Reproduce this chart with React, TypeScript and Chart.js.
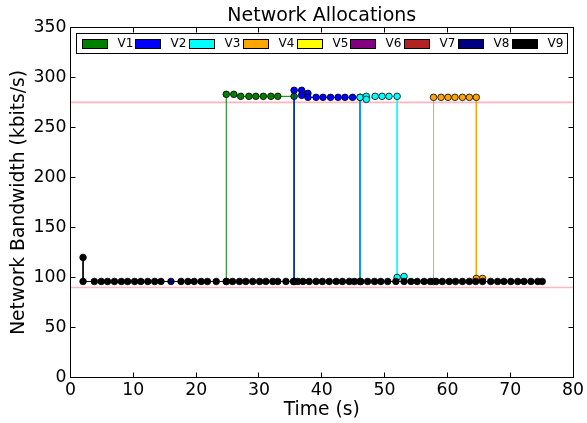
import React, { useEffect, useRef } from "react";
import { Chart, registerables } from "chart.js";

Chart.register(...registerables);

const FONT = "'DejaVu Sans', 'Liberation Sans', sans-serif";

const chartTitle = "Network Allocations";
const xAxisTitle = "Time (s)";
const yAxisTitle = "Network Bandwidth (kbits/s)";

const xMin = 0;
const xMax = 80;
const xStep = 10;
const yMin = 0;
const yMax = 350;
const yStep = 50;

const seriesLabels = ["V1", "V2", "V3", "V4", "V5", "V6", "V7", "V8", "V9"];
const seriesColors = [
  "#008000",
  "#0000ff",
  "#00ffff",
  "#ffa500",
  "#ffff00",
  "#800080",
  "#b22222",
  "#000080",
  "#000000",
];

// reference levels (kbits/s)
const limitLevels = [275, 90];

const v1Time = [24.8, 24.8, 26.0, 27.1, 28.4, 29.5, 30.7, 31.9, 33.0, 35.6, 35.6];
const v1Kbps = [96, 283, 283, 281, 281, 281, 281, 281, 281, 281, 96];

const v2Time = [35.6, 35.6, 36.8, 36.8, 37.8, 37.8, 39.1, 40.2, 41.4, 42.6, 43.7, 44.9, 46.1, 46.1];
const v2Kbps = [96, 287, 287, 282, 284, 280, 280, 280, 280, 280, 280, 280, 280, 96];

const v3Time = [46.1, 46.1, 47.1, 47.1, 48.5, 49.6, 50.7, 52.0, 52.0, 53.1];
const v3Kbps = [96, 280, 281, 278, 281, 281, 281, 281, 100, 101];

const v4Time = [57.8, 57.8, 59.0, 60.1, 61.2, 62.4, 63.5, 64.6, 64.6, 65.6];
const v4Kbps = [96, 280, 280, 280, 280, 280, 280, 280, 99, 99];

const v5Time: number[] = [];
const v5Kbps: number[] = [];

const v6Time: number[] = [];
const v6Kbps: number[] = [];

const v7Time: number[] = [];
const v7Kbps: number[] = [];

const v8Time = [16.0];
const v8Kbps = [96];

const v9Time = [
  2, 2, 3.8, 4.9, 5.9, 7.0, 8.1, 9.1, 10.2, 11.2, 12.3, 13.4, 14.4, 17.6, 18.7, 19.7, 20.8,
  21.8, 23.2, 24.8, 25.8, 26.9, 27.9, 29.0, 30.1, 31.1, 32.2, 33.0, 34.3, 35.5, 36.2, 37.0,
  38.0, 39.1, 40.1, 41.2, 42.3, 43.3, 44.4, 45.2, 46.2, 47.3, 48.4, 49.4, 50.5, 51.8, 53.1,
  54.2, 55.2, 56.3, 57.3, 58.2, 59.2, 60.3, 61.3, 62.4, 63.5, 64.5, 65.6, 66.9, 68.0, 69.0,
  70.1, 71.2, 72.2, 73.3, 74.4, 75.1,
];
const v9Kbps = [
  120, 96, 96, 96, 96, 96, 96, 96, 96, 96, 96, 96, 96, 96, 96, 96, 96,
  96, 96, 96, 96, 96, 96, 96, 96, 96, 96, 96, 96, 96, 96, 96,
  96, 96, 96, 96, 96, 96, 96, 96, 96, 96, 96, 96, 96, 96, 96,
  96, 96, 96, 96, 96, 96, 96, 96, 96, 96, 96, 96, 96, 96, 96,
  96, 96, 96, 96, 96, 96,
];

const seriesTimes = [v1Time, v2Time, v3Time, v4Time, v5Time, v6Time, v7Time, v8Time, v9Time];
const seriesValues = [v1Kbps, v2Kbps, v3Kbps, v4Kbps, v5Kbps, v6Kbps, v7Kbps, v8Kbps, v9Kbps];

const framePlugin = {
  id: "frameTicks",
  afterDatasetsDraw(chart: any) {
    const { ctx, chartArea: ca, scales } = chart;
    const L = Math.floor(ca.left) + 0.5;
    const R = Math.floor(ca.right) + 0.5;
    const T = Math.floor(ca.top) + 0.5;
    const B = Math.floor(ca.bottom) + 0.5;
    ctx.save();
    ctx.strokeStyle = "#000";
    ctx.lineWidth = 1;
    ctx.beginPath();
    const len = 5;
    scales.x.ticks.forEach((t: any) => {
      const px = Math.floor(scales.x.getPixelForValue(t.value)) + 0.5;
      ctx.moveTo(px, B);
      ctx.lineTo(px, B - len);
      ctx.moveTo(px, T);
      ctx.lineTo(px, T + len);
    });
    scales.y.ticks.forEach((t: any) => {
      const py = Math.floor(scales.y.getPixelForValue(t.value)) + 0.5;
      ctx.moveTo(L, py);
      ctx.lineTo(L + len, py);
      ctx.moveTo(R, py);
      ctx.lineTo(R - len, py);
    });
    ctx.stroke();
    ctx.strokeRect(L, T, R - L, B - T);
    ctx.restore();
  },
};

const legendPlugin = {
  id: "boxLegend",
  afterDraw(chart: any) {
    const { ctx, chartArea: ca } = chart;
    const items = chart.data.datasets.filter((d: any) => d.label);
    const boxL = Math.floor(ca.left + 5.5) + 0.5;
    const boxR = Math.floor(ca.right - 6) + 0.5;
    const boxT = Math.floor(ca.top + 6) + 0.5;
    const boxB = boxT + 20;
    ctx.save();
    ctx.fillStyle = "#ffffff";
    ctx.fillRect(boxL, boxT, boxR - boxL, boxB - boxT);
    ctx.strokeStyle = "#000";
    ctx.lineWidth = 1;
    ctx.strokeRect(boxL, boxT, boxR - boxL, boxB - boxT);
    ctx.font = `12px ${FONT}`;
    const patchW = 25;
    const patchH = 9;
    const gap = 10;
    const startX = boxL + 5;
    const lastW = ctx.measureText(items[items.length - 1].label).width;
    const step = (boxR - 5 - startX - patchW - gap - lastW) / (items.length - 1);
    const cy = (boxT + boxB) / 2;
    items.forEach((d: any, i: number) => {
      const x = Math.round(startX + i * step) + 0.5;
      const y = Math.round(cy - patchH / 2) + 0.5;
      ctx.fillStyle = d.pointBackgroundColor;
      ctx.fillRect(x, y, patchW, patchH);
      ctx.strokeStyle = "#000";
      ctx.strokeRect(x, y, patchW, patchH);
      ctx.fillStyle = "#000";
      ctx.textBaseline = "middle";
      ctx.textAlign = "left";
      ctx.fillText(d.label, x + patchW + gap, cy + 0.5);
    });
    ctx.restore();
  },
};

export default function App() {
  const canvasRef = useRef<HTMLCanvasElement | null>(null);

  useEffect(() => {
    document.body.style.margin = "0";
    const canvas = canvasRef.current;
    if (!canvas) return;

    const seriesDatasets = seriesLabels.map((label, i) => ({
      label,
      data: seriesTimes[i].map((t, j) => ({ x: t, y: seriesValues[i][j] })),
      borderColor: seriesColors[i],
      backgroundColor: seriesColors[i],
      pointBackgroundColor: seriesColors[i],
      pointBorderColor: "#000000",
      pointBorderWidth: 0.8,
      pointRadius: 3.3,
      pointHoverRadius: 3.3,
      borderWidth: 1,
      showLine: true,
      fill: false,
      tension: 0,
      order: seriesLabels.length - 1 - i,
    }));

    const limitDatasets = limitLevels.map((lvl) => ({
      label: "",
      data: [
        { x: xMin, y: lvl },
        { x: xMax, y: lvl },
      ],
      borderColor: "#ffb6c1",
      backgroundColor: "#ffb6c1",
      pointBackgroundColor: "#ffb6c1",
      borderWidth: 1.6,
      pointRadius: 0,
      showLine: true,
      fill: false,
      order: 20,
    }));

    const chart = new Chart(canvas, {
      type: "line",
      data: { datasets: [...seriesDatasets, ...limitDatasets] as any },
      options: {
        responsive: false,
        animation: false,
        devicePixelRatio: 1,
        layout: { padding: { left: 0, right: 14, top: 0, bottom: 0 } },
        plugins: {
          legend: { display: false },
          tooltip: { enabled: false },
          title: {
            display: true,
            text: chartTitle,
            color: "#000",
            fullSize: false,
            font: { family: FONT, size: 19, weight: "normal" as any },
            padding: { top: 4.5, bottom: 0 },
          },
        },
        scales: {
          x: {
            type: "linear",
            min: xMin,
            max: xMax,
            grid: { display: false, drawTicks: false },
            border: { display: false },
            ticks: {
              stepSize: xStep,
              color: "#000",
              padding: 3,
              font: { family: FONT, size: 17.3 },
              maxRotation: 0,
            },
            title: {
              display: true,
              text: xAxisTitle,
              color: "#000",
              font: { family: FONT, size: 18.7 },
              padding: { top: 0, bottom: 2 },
            },
            afterFit: (scale: any) => {
              scale.height = 45.5;
            },
          },
          y: {
            type: "linear",
            min: yMin,
            max: yMax,
            grid: { display: false, drawTicks: false },
            border: { display: false },
            ticks: {
              stepSize: yStep,
              color: "#000",
              padding: 4,
              font: { family: FONT, size: 17.3 },
            },
            title: {
              display: true,
              text: yAxisTitle,
              color: "#000",
              font: { family: FONT, size: 18.7 },
              padding: { top: 8, bottom: 0 },
            },
            afterFit: (scale: any) => {
              scale.width = 70.5;
            },
          },
        },
      },
      plugins: [framePlugin, legendPlugin],
    });

    return () => {
      chart.destroy();
    };
  }, []);

  return (
    <div style={{ width: 587, height: 423, background: "#fff" }}>
      <canvas ref={canvasRef} width={587} height={423} style={{ display: "block" }} />
    </div>
  );
}
